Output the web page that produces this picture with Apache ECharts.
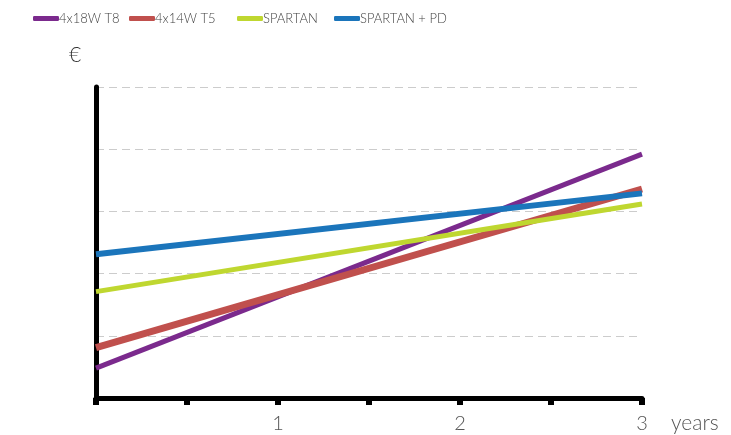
<!DOCTYPE html>
<html>
<head>
<meta charset="utf-8">
<script src="https://cdn.jsdelivr.net/npm/echarts@6/dist/echarts.min.js"></script>
<style>
  html, body { margin: 0; padding: 0; background: #fff; }
  #main { width: 731px; height: 435px; }
</style>
</head>
<body>
<div id="main"></div>
<script>
// data (x = years, y = relative cost)
var years = [0, 3];
var t8 = [0.48, 3.92];
var t5 = [0.81, 3.36];
var spartan = [1.71, 3.12];
var spartanPd = [2.31, 3.29];

var names = ['4x18W T8', '4x14W T5', 'SPARTAN', 'SPARTAN + PD'];
var colors = ['#7b2a8d', '#c0504d', '#bfd730', '#1b75bb'];
var widths = [5, 7, 5, 6];
var legendLeft = [28, 124, 232, 329];

function pts(vals) {
    var out = [];
    for (var i = 0; i < years.length; i++) {
        out.push([years[i], vals[i]]);
    }
    return out;
}

var seriesVals = [t8, t5, spartan, spartanPd];
var series = [];
var legends = [];
for (var i = 0; i < names.length; i++) {
    series.push({
        name: names[i],
        type: 'line',
        data: pts(seriesVals[i]),
        symbol: 'none',
        lineStyle: { color: colors[i], width: widths[i] },
        itemStyle: { color: colors[i] },
        z: 3
    });
    legends.push({
        data: [names[i]],
        left: legendLeft[i],
        top: 7,
        itemWidth: 26,
        itemHeight: 5,
        icon: 'roundRect',
        textStyle: { fontFamily: 'Lato', fontWeight: 300, fontSize: 13, color: '#444', padding: [0, 0, 0, -5] }
    });
}

var myChart = echarts.init(document.getElementById('main'));
myChart.setOption({
    animation: false,
    legend: legends,
    grid: { left: 96, right: 89, top: 87, bottom: 37 },
    xAxis: {
        type: 'value',
        min: 0,
        max: 3,
        interval: 0.5,
        axisLine: { show: true, onZero: false, lineStyle: { color: '#000', width: 5 } },
        axisTick: { show: true, length: 7, lineStyle: { color: '#000', width: 6 } },
        axisLabel: {
            margin: 16,
            fontFamily: 'Lato',
            fontWeight: 300,
            fontSize: 20,
            color: '#555',
            formatter: function (v) { return (v > 0 && v % 1 === 0) ? String(v) : ''; }
        },
        splitLine: { show: false }
    },
    yAxis: {
        type: 'value',
        min: 0,
        max: 5,
        interval: 1,
        axisLine: { show: true, lineStyle: { color: '#000', width: 5 } },
        axisTick: { show: false },
        axisLabel: { show: false },
        splitLine: { show: true, lineStyle: { color: '#cccccc', width: 1, type: [8, 5] } }
    },
    graphic: [
        { type: 'text', left: 69, top: 45, style: { text: '€', fontFamily: 'Lato', fontWeight: 300, fontSize: 21, fill: '#333' } },
        { type: 'text', left: 671, top: 413, style: { text: 'years', fontFamily: 'Lato', fontWeight: 300, fontSize: 21, fill: '#555' } }
    ],
    series: series
});
</script>
</body>
</html>
